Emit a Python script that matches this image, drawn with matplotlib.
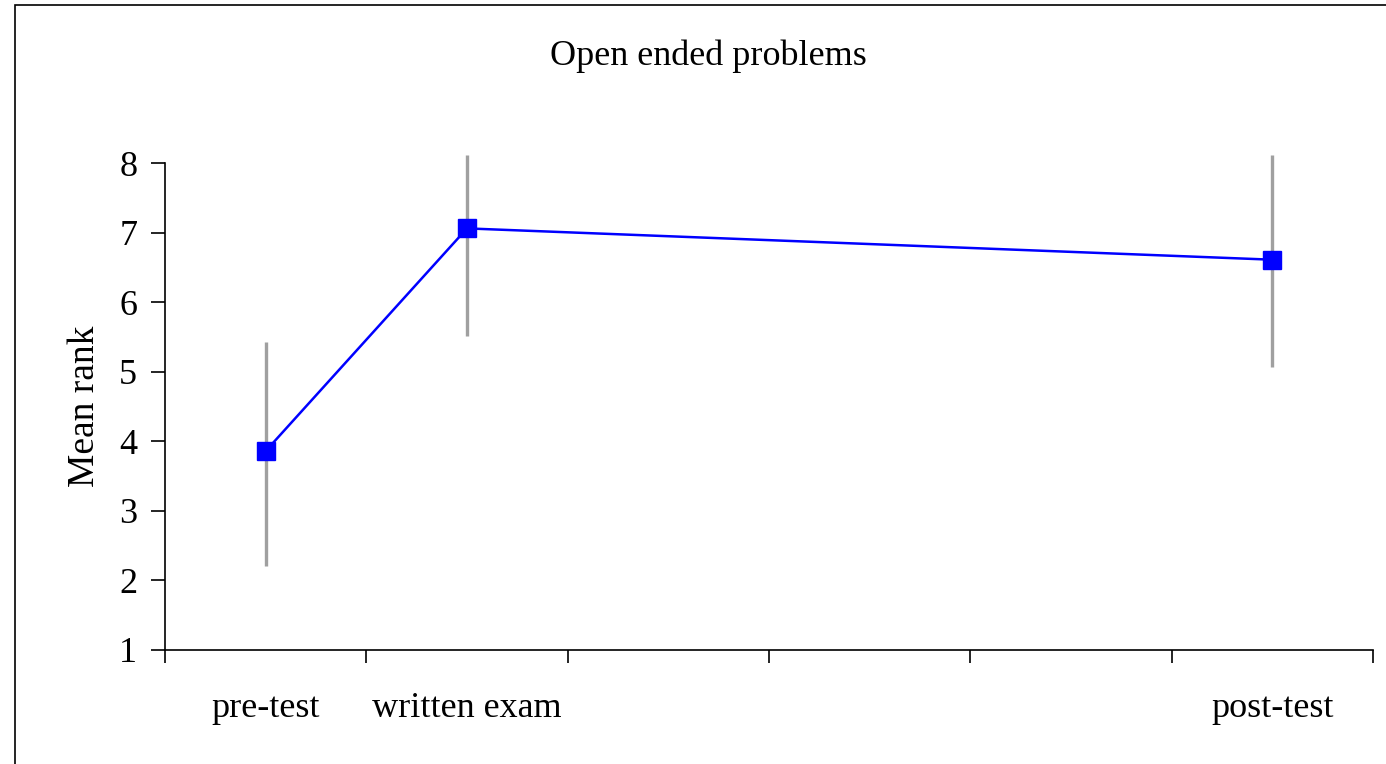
import matplotlib.pyplot as plt
from matplotlib.patches import Rectangle

# data
categories = ["pre-test", "written exam", "post-test"]
positions = [0, 1, 5]
mean_rank = [3.86, 7.06, 6.61]
err_low = [2.21, 5.52, 5.07]
err_high = [5.43, 8.12, 8.12]

plt.rcParams["font.family"] = ["Liberation Serif", "DejaVu Serif"]

fig = plt.figure(figsize=(13.86, 7.64), dpi=100)
ax = fig.add_axes([165 / 1386, 1 - 650 / 764, (1373 - 165) / 1386, (650 - 163) / 764])

# outer frame like the pasted excel chart
fig.patches.append(Rectangle((15 / 1386, -0.01), 1.0, 1 - 5 / 764 + 0.01,
                             transform=fig.transFigure, fill=False,
                             edgecolor="black", linewidth=1.2))

# error bars
for x, lo, hi in zip(positions, err_low, err_high):
    ax.plot([x, x], [lo, hi], color="#a0a0a0", linewidth=2.4, zorder=2,
            clip_on=False, solid_capstyle="butt")

ax.plot(positions, mean_rank, color="#0000ff", linewidth=1.8, marker="s",
        markersize=12.5, markerfacecolor="#0000ff", markeredgecolor="#0000ff",
        zorder=3, clip_on=False)

ax.set_xlim(-0.5, 5.5)
ax.set_ylim(1, 8)
ax.set_yticks(range(1, 9))
ax.set_xticks([i - 0.5 for i in range(7)])
ax.set_xticklabels([])
ax.set_xticks(positions, minor=True)
ax.set_xticklabels(categories, minor=True)
ax.tick_params(axis="x", which="minor", length=0, pad=30, labelsize=26)
ax.tick_params(axis="x", which="major", length=9, width=1.2, direction="out")
ax.tick_params(axis="y", length=10, width=1.2, direction="out", labelsize=26, pad=10)

ax.spines["top"].set_visible(False)
ax.spines["right"].set_visible(False)
ax.spines["left"].set_linewidth(1.2)
ax.spines["bottom"].set_linewidth(1.2)

ax.set_ylabel("Mean rank", fontsize=27, labelpad=12)
fig.text(708 / 1386, 1 - 56 / 764, "Open ended problems", ha="center",
         va="center", fontsize=26)

fig.savefig("out.png", dpi=100)
